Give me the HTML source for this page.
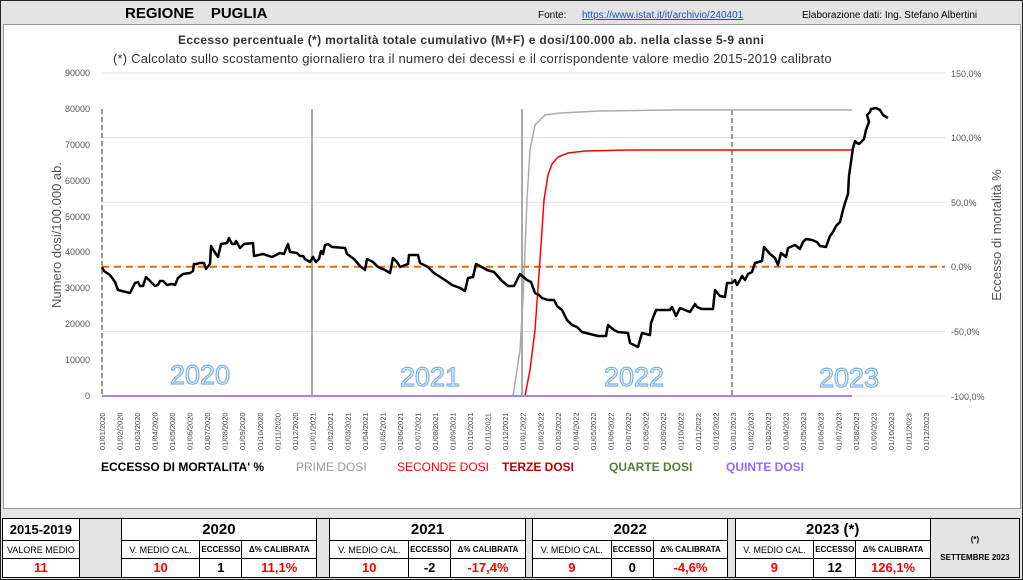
<!DOCTYPE html>
<html><head><meta charset="utf-8"><style>
body{margin:0;width:1023px;height:580px;background:#fff;font-family:"Liberation Sans",sans-serif;overflow:hidden;position:relative}
.t{position:absolute;white-space:nowrap}
table{position:absolute;border-collapse:collapse;font-family:"Liberation Sans",sans-serif}
td{border:1px solid #000;text-align:center;padding:0;font-size:9px}
</style></head><body>
<div style="position:absolute;left:0;top:0;width:1021px;height:578px;border:1px solid #222;background:#e4e4e4"></div>
<div style="position:absolute;left:3px;top:24px;width:1016px;height:483px;background:#fff;border:1px solid #999"></div>
<div class="t" style="left:125px;top:5px;font-size:15px;font-weight:bold">REGIONE &nbsp;&nbsp; PUGLIA</div>
<div class="t" style="left:538px;top:10px;font-size:10px">Fonte:</div>
<div class="t" style="left:582px;top:10px;font-size:10px;color:#1f4fb4;text-decoration:underline">https://www.istat.it/it/archivio/240401</div>
<div class="t" style="left:802px;top:10px;font-size:10px">Elaborazione dati: Ing. Stefano Albertini</div>
<div class="t" style="left:178px;top:33px;font-size:12px;font-weight:bold;color:#333;letter-spacing:0.35px">Eccesso percentuale (*) mortalità totale cumulativo (M+F) e dosi/100.000 ab. nella classe 5-9 anni</div>
<div class="t" style="left:113px;top:51px;font-size:13px;color:#333;letter-spacing:0.2px">(*) Calcolato sullo scostamento giornaliero tra il numero dei decessi e il corrispondente valore medio 2015-2019 calibrato</div>
<svg width="1023" height="580" style="position:absolute;left:0;top:0" font-family="Liberation Sans, sans-serif">
<g stroke="#ddd" stroke-width="1">
<line x1="102" y1="73" x2="945" y2="73"/><line x1="102" y1="137.6" x2="945" y2="137.6"/><line x1="102" y1="202.2" x2="945" y2="202.2"/><line x1="102" y1="266.8" x2="945" y2="266.8"/><line x1="102" y1="331.4" x2="945" y2="331.4"/>
</g>
<g font-size="9" fill="#555" text-anchor="end">
<text x="90" y="76">90000</text><text x="90" y="112">80000</text><text x="90" y="148">70000</text><text x="90" y="184">60000</text><text x="90" y="220">50000</text><text x="90" y="255">40000</text><text x="90" y="291">30000</text><text x="90" y="327">20000</text><text x="90" y="363">10000</text><text x="90" y="399">0</text>
</g>
<g font-size="9" fill="#555">
<text x="951" y="77">150,0%</text><text x="951" y="141">100,0%</text><text x="951" y="206">50,0%</text><text x="951" y="270">0,0%</text><text x="951" y="335">-50,0%</text><text x="951" y="400">-100,0%</text>
</g>
<text transform="translate(61,235) rotate(-90)" font-size="13" fill="#555" text-anchor="middle">Numero dosi/100.000 ab.</text>
<text transform="translate(1001,235) rotate(-90)" font-size="13" fill="#555" text-anchor="middle">Eccesso di mortalità %</text>
<g font-family="Liberation Sans, sans-serif" font-size="27" fill="#eef5fc" stroke="#7fb3e0" stroke-width="1.2" text-anchor="middle">
<text x="200" y="384">2020</text><text x="430" y="386">2021</text><text x="634" y="386">2022</text><text x="849" y="387">2023</text>
</g>
<line x1="102" y1="109" x2="102" y2="396" stroke="#999" stroke-width="2" stroke-dasharray="5,3"/>
<line x1="312" y1="109" x2="312" y2="396" stroke="#aaa" stroke-width="2"/>
<line x1="522" y1="109" x2="522" y2="396" stroke="#aaa" stroke-width="2"/>
<line x1="732" y1="110" x2="732" y2="396" stroke="#999" stroke-width="2" stroke-dasharray="5,3"/>
<line x1="102" y1="266.8" x2="945" y2="266.8" stroke="#e36c0a" stroke-width="2" stroke-dasharray="7,5"/>
<polyline fill="none" stroke="#aaa" stroke-width="1.5" points="513,396 517,370 520,350 523,300 527,200 530,150 535,125 545,115 560,113 600,111 670,110 760,110 852,110"/>
<polyline fill="none" stroke="#f00" stroke-width="1.5" points="525,396 530,370 535,330 540,260 544,200 548,175 552,164 558,157 568,153 585,151 630,150 852,150"/>
<line x1="102" y1="396" x2="852" y2="396" stroke="#9966ff" stroke-width="2"/>
<line x1="102" y1="396" x2="945" y2="396" stroke="#ccc" stroke-width="0.5"/>
<polyline fill="none" stroke="#000" stroke-width="2.5" stroke-linejoin="round" points="102,267 104,271 110,275 115,282 118,290 126,292 130,293 135,283 138,282 140,286 143,286 146,277 150,281 155,286 158,285 160,281 163,281 167,285 172,284 175,285 178,278 183,274 190,273 193,271 194,264 197,264 199,263 204,263 206,269 210,264 211,246 214,251 218,257 221,244 227,243 229,238 232,244 235,244 236,241 240,248 244,244 253,243 254,256 263,254 272,257 280,253 284,254 288,244 290,252 297,253 300,256 303,256 305,259 310,262 313,257 316,262 319,259 321,251 323,254 325,245 328,244 332,247 345,248 347,254 354,259 360,266 365,270 367,259 373,262 378,267 385,270 390,273 393,258 397,262 400,267 408,264 409,255 418,255 420,263 428,267 434,273 445,280 452,285 460,288 465,291 468,278 473,277 476,264 480,266 487,270 494,272 502,281 508,286 514,286 518,278 520,274 527,280 531,282 535,293 539,295 542,298 548,300 554,300 557,306 562,310 567,320 572,325 577,327 582,332 590,334 598,336 606,336 608,325 614,330 618,332 628,333 630,343 638,347 642,333 650,335 651,323 656,310 663,310 670,310 672,307 676,316 680,308 690,312 695,304 697,307 702,309 713,309 715,290 720,296 725,297 727,283 732,283 735,280 737,285 740,280 742,276 745,280 748,274 752,272 755,263 762,261 764,247 770,254 775,258 778,265 781,253 786,257 788,248 795,245 800,249 803,242 806,239 812,240 817,242 820,246 826,247 830,236 833,232 836,226 840,222 843,210 845,203 848,194 849,176 850,169 853,148 855,141 857,143 859,144 864,139 866,130 869,122 867,115 870,112 871,109 876,108 880,110 883,115 888,118"/>
<g font-size="7.5" fill="#444" id="xl"></g>
<g font-size="12" font-weight="bold">
<text x="101" y="471" fill="#000" font-weight="bold">ECCESSO DI MORTALITA' %</text>
<text x="296" y="471" fill="#999" font-weight="normal">PRIME DOSI</text>
<text x="397" y="471" fill="#f00" font-weight="normal">SECONDE DOSI</text>
<text x="502" y="471" fill="#c00000">TERZE DOSI</text>
<text x="609" y="471" fill="#548235">QUARTE DOSI</text>
<text x="726" y="471" fill="#9966ff">QUINTE DOSI</text>
</g>
</svg>
<table style="left:2px;top:518px;width:1018px;height:60px;background:#fff">
<tr style="height:22px">
<td style="width:74px;font-size:13px;font-weight:bold">2015-2019</td>
<td rowspan="3" style="width:40px;background:#e4e4e4"></td>
<td colspan="3" style="font-size:15px;font-weight:bold">2020</td>
<td rowspan="3" style="width:12px;background:#e4e4e4"></td>
<td colspan="3" style="font-size:15px;font-weight:bold">2021</td>
<td rowspan="3" style="width:6px;background:#e4e4e4"></td>
<td colspan="3" style="font-size:15px;font-weight:bold">2022</td>
<td rowspan="3" style="width:6px;background:#e4e4e4"></td>
<td colspan="3" style="font-size:15px;font-weight:bold">2023 (*)</td>
<td rowspan="3" style="width:86px;background:#e4e4e4;font-size:8px;font-weight:bold">(*)<br><br>SETTEMBRE 2023</td>
</tr>
<tr style="height:17px">
<td style="font-size:9px">VALORE MEDIO</td>
<td style="width:76px">V. MEDIO CAL.</td><td style="width:40px;font-size:8px;font-weight:bold">ECCESSO</td><td style="width:72px;font-size:8px;font-weight:bold">Δ% CALIBRATA</td>
<td style="width:76px">V. MEDIO CAL.</td><td style="width:40px;font-size:8px;font-weight:bold">ECCESSO</td><td style="width:72px;font-size:8px;font-weight:bold">Δ% CALIBRATA</td>
<td style="width:76px">V. MEDIO CAL.</td><td style="width:40px;font-size:8px;font-weight:bold">ECCESSO</td><td style="width:72px;font-size:8px;font-weight:bold">Δ% CALIBRATA</td>
<td style="width:76px">V. MEDIO CAL.</td><td style="width:40px;font-size:8px;font-weight:bold">ECCESSO</td><td style="width:72px;font-size:8px;font-weight:bold">Δ% CALIBRATA</td>
</tr>
<tr style="height:19px;font-weight:bold">
<td style="color:#f00;font-size:13px">11</td>
<td style="color:#f00;font-size:13px">10</td><td style="font-size:13px">1</td><td style="color:#f00;font-size:13px">11,1%</td>
<td style="color:#f00;font-size:13px">10</td><td style="font-size:13px">-2</td><td style="color:#f00;font-size:13px">-17,4%</td>
<td style="color:#f00;font-size:13px">9</td><td style="font-size:13px">0</td><td style="color:#f00;font-size:13px">-4,6%</td>
<td style="color:#f00;font-size:13px">9</td><td style="font-size:13px">12</td><td style="color:#f00;font-size:13px">126,1%</td>
</tr>
</table>
<script>
var g=document.getElementById('xl'),s='';
for(var i=0;i<48;i++){var y=2020+Math.floor(i/12),m=(i%12)+1;var x=102+i*17.53+3;
s+='<text transform="translate('+x.toFixed(1)+',450) rotate(-90)">01/'+(m<10?'0'+m:m)+'/'+y+'</text>';}
g.innerHTML=s;
</script>
</body></html>
